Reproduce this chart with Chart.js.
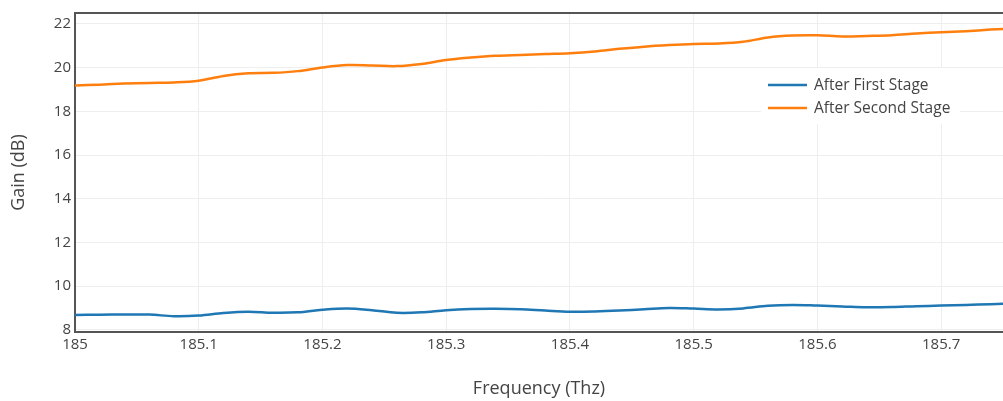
<!DOCTYPE html>
<html>
<head>
<meta charset="utf-8">
<script src="https://cdn.jsdelivr.net/npm/chart.js@4/dist/chart.umd.min.js"></script>
<style>
  html, body { margin: 0; padding: 0; background: #fff; }
  #wrap { width: 1003px; height: 401px; }
</style>
</head>
<body>
<div id="wrap"><canvas id="c" width="1003" height="401"></canvas></div>
<script>
// ---- data ----
const frequency = [185.00, 185.02, 185.04, 185.06, 185.08, 185.10, 185.12, 185.14, 185.16, 185.18,
                   185.20, 185.22, 185.24, 185.26, 185.28, 185.30, 185.32, 185.34, 185.36, 185.38,
                   185.40, 185.42, 185.44, 185.46, 185.48, 185.50, 185.52, 185.54, 185.56, 185.58,
                   185.60, 185.62, 185.64, 185.66, 185.68, 185.70, 185.72, 185.74, 185.76];
const afterFirstStage = [8.68, 8.69, 8.70, 8.70, 8.62, 8.65, 8.77, 8.83, 8.78, 8.80,
                         8.92, 8.98, 8.90, 8.78, 8.80, 8.90, 8.95, 8.96, 8.94, 8.88,
                         8.83, 8.84, 8.88, 8.94, 9.00, 8.97, 8.93, 8.98, 9.10, 9.14,
                         9.11, 9.07, 9.03, 9.04, 9.08, 9.11, 9.14, 9.17, 9.21];
const afterSecondStage = [19.18, 19.22, 19.27, 19.30, 19.32, 19.40, 19.62, 19.74, 19.76, 19.84,
                          20.01, 20.12, 20.10, 20.07, 20.17, 20.35, 20.46, 20.54, 20.58, 20.62,
                          20.66, 20.74, 20.86, 20.96, 21.03, 21.08, 21.10, 21.18, 21.38, 21.47,
                          21.48, 21.43, 21.45, 21.48, 21.56, 21.62, 21.67, 21.74, 21.80];
const seriesNames = ['After First Stage', 'After Second Stage'];
const seriesColors = ['#1f77b4', '#ff7f0e'];
const xTitle = 'Frequency (Thz)';
const yTitle = 'Gain (dB)';

const FONT = '"Open Sans", "Noto Sans", sans-serif';
const TXT = '#444';

function pts(ys) { return frequency.map((x, i) => ({ x: x, y: ys[i] })); }

const framePlugin = {
  id: 'frame',
  afterDraw(chart) {
    const ctx = chart.ctx, a = chart.chartArea;
    ctx.save();
    // top border line
    ctx.strokeStyle = '#555';
    ctx.lineWidth = 2;
    ctx.beginPath();
    ctx.moveTo(a.left - 1, a.top);
    ctx.lineTo(a.right, a.top);
    ctx.stroke();
    // legend box
    const lx = a.right - 242, ly = a.top + 55, lw = 199, lh = 56;
    ctx.fillStyle = '#fff';
    ctx.fillRect(lx, ly, lw, lh);
    ctx.font = '15.5px ' + FONT;
    ctx.textBaseline = 'middle';
    chart.data.datasets.forEach((ds, i) => {
      const y = ly + 17 + i * 23;
      ctx.strokeStyle = ds.borderColor;
      ctx.lineWidth = 2.5;
      ctx.beginPath();
      ctx.moveTo(lx + 7, y);
      ctx.lineTo(lx + 46, y);
      ctx.stroke();
      ctx.fillStyle = TXT;
      ctx.fillText(ds.label, lx + 53, y + 1);
    });
    ctx.restore();
  }
};

new Chart(document.getElementById('c'), {
  type: 'line',
  data: {
    datasets: [
      { label: seriesNames[0], data: pts(afterFirstStage), borderColor: seriesColors[0], backgroundColor: seriesColors[0],
        borderWidth: 2.5, pointRadius: 0, tension: 0.35, fill: false },
      { label: seriesNames[1], data: pts(afterSecondStage), borderColor: seriesColors[1], backgroundColor: seriesColors[1],
        borderWidth: 2.5, pointRadius: 0, tension: 0.35, fill: false }
    ]
  },
  options: {
    responsive: false,
    animation: false,
    layout: { padding: { top: 12, right: 0, bottom: 0, left: 0 } },
    plugins: { legend: { display: false }, tooltip: { enabled: false } },
    scales: {
      x: {
        type: 'linear',
        min: 185, max: 185.75,
        afterFit(s) { s.height = 69; },
        ticks: {
          stepSize: 0.1, includeBounds: false, color: TXT, padding: 4,
          font: { family: FONT, size: 15 },
          maxRotation: 0,
          callback: v => String(Number(v.toFixed(1)))
        },
        grid: { color: '#eeeeee', lineWidth: 1, drawTicks: false },
        border: { display: true, color: '#555', width: 2 },
        title: { display: true, text: xTitle, color: TXT, font: { family: FONT, size: 18 }, padding: { top: 0, bottom: 1 } }
      },
      y: {
        type: 'linear',
        min: 7.9, max: 22.5,
        afterFit(s) { s.width = 75; },
        ticks: {
          stepSize: 2, includeBounds: false, color: TXT, padding: 4,
          font: { family: FONT, size: 15 }
        },
        grid: { color: '#eeeeee', lineWidth: 1, drawTicks: false },
        border: { display: true, color: '#555', width: 2 },
        title: { display: true, text: yTitle, color: TXT, font: { family: FONT, size: 18 }, padding: { top: 8, bottom: 0 } }
      }
    }
  },
  plugins: [framePlugin]
});
</script>
</body>
</html>
